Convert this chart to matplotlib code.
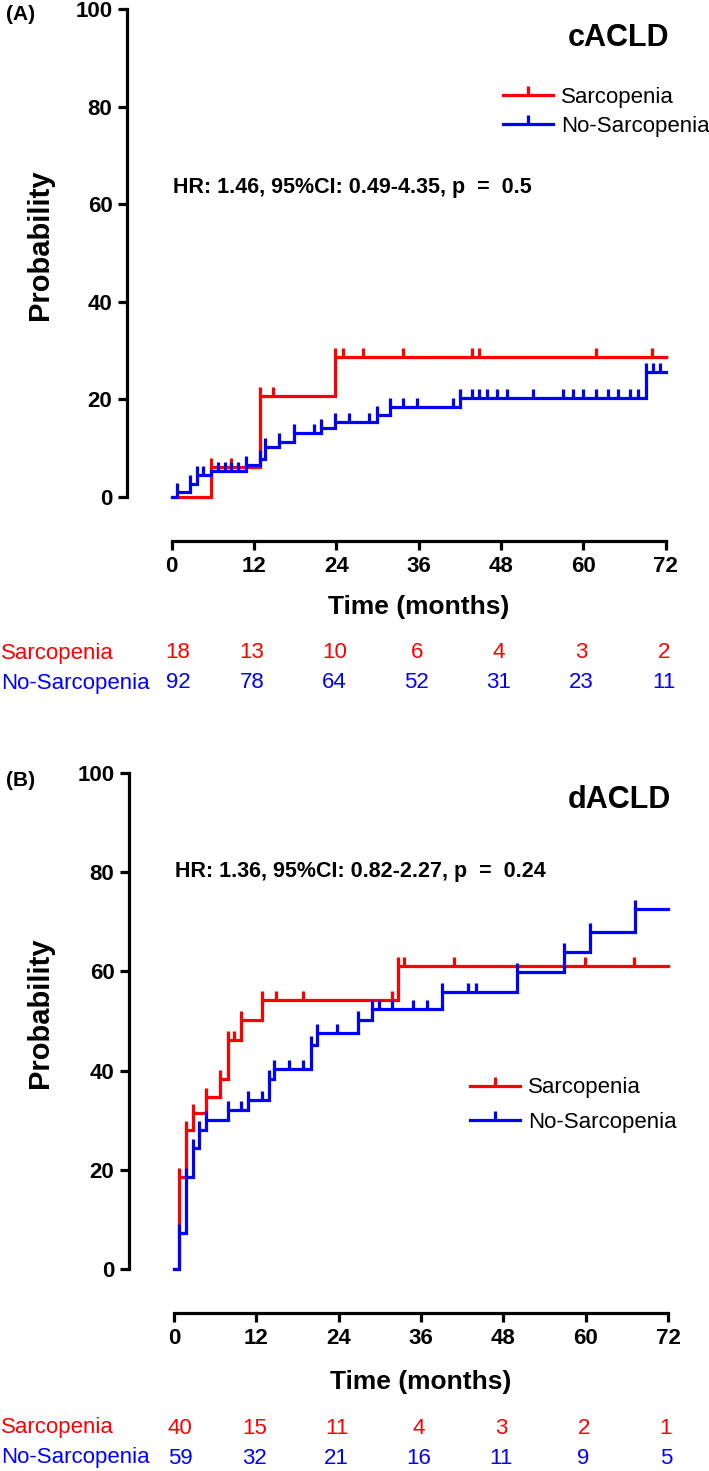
import numpy as np
import matplotlib
matplotlib.use("Agg")
import matplotlib.pyplot as plt
from matplotlib.path import Path
from matplotlib.transforms import blended_transform_factory

plt.rcParams['font.family'] = ['Liberation Sans', 'DejaVu Sans']

RED = '#FF0000'
BLUE = '#0000FF'

# ---------------- data ----------------
time_ticks = [0, 12, 24, 36, 48, 60, 72]
prob_ticks = [0, 20, 40, 60, 80, 100]
group_names = ['Sarcopenia', 'No-Sarcopenia']

# Panel A : cACLD
a_title = 'cACLD'
a_hr = 'HR: 1.46, 95%CI: 0.49-4.35, p  =  0.5'
a_sarc_t = [0, 5.7, 12.8, 23.8, 72]
a_sarc_p = [0, 6.2, 20.7, 28.75, 28.75]
a_sarc_cens = [5.7, 8.7, 12.8, 14.7, 23.8, 24.9, 27.8, 33.7, 43.7, 44.8, 61.9, 70.0]
a_nosarc_t = [0, 0.7, 2.7, 3.7, 5.7, 10.8, 12.8, 13.6, 15.7, 17.8, 21.7, 23.8,
              29.9, 31.8, 42.0, 69.1, 72]
a_nosarc_p = [0, 1.1, 2.7, 4.5, 5.3, 6.6, 7.7, 10.3, 11.3, 13.2, 14.1, 15.4,
              16.8, 18.5, 20.2, 25.7, 25.7]
a_nosarc_cens = [0.7, 2.7, 3.7, 4.6, 6.8, 7.8, 8.7, 9.7, 10.8, 12.8, 13.6, 15.7,
                 17.8, 20.7, 21.7, 23.8, 25.8, 28.7, 29.9, 31.8, 33.7, 35.7, 41.0,
                 42.0, 43.7, 44.8, 46.0, 47.4, 48.8, 52.7, 57.0, 58.5, 60.0, 61.9,
                 63.6, 65.1, 66.8, 67.9, 69.1, 70.2, 71.1]
a_risk_sarc = [18, 13, 10, 6, 4, 3, 2]
a_risk_nosarc = [92, 78, 64, 52, 31, 23, 11]

# Panel B : dACLD
b_title = 'dACLD'
b_hr = 'HR: 1.36, 95%CI: 0.82-2.27, p  =  0.24'
b_sarc_t = [0, 0.75, 1.8, 2.75, 4.7, 6.7, 7.8, 9.7, 12.8, 32.6, 72]
b_sarc_p = [0, 18.6, 28.0, 31.4, 34.7, 38.4, 46.1, 50.2, 54.3, 61.1, 61.1]
b_sarc_cens = [0.75, 1.8, 2.75, 4.7, 6.7, 7.8, 8.7, 9.7, 12.8, 14.8, 18.8, 31.8,
               32.6, 33.5, 40.8, 59.9, 67.0]
b_nosarc_t = [0, 0.75, 1.8, 2.75, 3.7, 4.7, 7.8, 10.8, 13.9, 14.6, 19.9, 20.8,
              26.8, 28.8, 39.0, 50.0, 56.9, 60.6, 67.2, 72]
b_nosarc_p = [0, 7.3, 18.6, 24.3, 28.0, 30.0, 32.0, 34.1, 38.4, 40.4, 45.1, 47.5,
              50.2, 52.5, 55.9, 59.9, 63.9, 68.0, 72.5, 72.5]
b_nosarc_cens = [0.75, 1.8, 2.75, 3.7, 4.7, 7.8, 9.7, 10.8, 12.8, 13.9, 14.6, 16.8,
                 18.8, 19.9, 20.8, 23.8, 26.8, 28.8, 29.9, 31.8, 34.8, 36.9, 39.0,
                 42.9, 44.0, 50.0, 56.9, 60.6, 67.2]
b_risk_sarc = [40, 15, 11, 4, 3, 2, 1]
b_risk_nosarc = [59, 32, 21, 16, 11, 9, 5]

# ---------------- figure ----------------
W, H, DPI = 709, 1471, 100
PT = 72.0 / DPI
fig = plt.figure(figsize=(W / DPI, H / DPI), dpi=DPI)

TICK = Path([(0, 0), (0, 1)])
LW = 2.3
MS = 13


def level_at(times, levels, t):
    i = np.searchsorted(times, t, side='right') - 1
    return np.asarray(levels)[i]


def panel(lay, letter, title, hr, sarc, nosarc, risk_s, risk_n):
    x0, x72, y0, y100 = lay['x0'], lay['x72'], lay['y0'], lay['y100']
    ax = fig.add_axes([x0 / W, 1 - y0 / H, (x72 - x0) / W, (y0 - y100) / H])
    ax.set_xlim(0, 72)
    ax.set_ylim(0, 100)

    def fy(ypx):  # figure pixel row -> axes fraction
        return (y0 - ypx) / (y0 - y100)

    for (t, p, c), col, z in [(sarc, RED, 3), (nosarc, BLUE, 4)]:
        ax.step(t, p, where='post', color=col, lw=LW, clip_on=False, zorder=z,
                solid_joinstyle='miter')
        cy = level_at(t, p, np.asarray(c))
        ax.plot(c, cy, ls='none', marker=TICK, ms=MS, mew=LW, mec=col,
                clip_on=False, zorder=z)

    for s in ['top', 'right']:
        ax.spines[s].set_visible(False)
    ax.spines['left'].set_position(('outward', (x0 - lay['sx']) * PT))
    ax.spines['bottom'].set_position(('outward', (lay['sy'] - y0) * PT))
    for s in ['left', 'bottom']:
        ax.spines[s].set_linewidth(2.3)
        ax.spines[s].set_capstyle('projecting')
    ax.spines['left'].set_bounds(0, 100)
    ax.spines['bottom'].set_bounds(0, 72)
    ax.set_xticks(time_ticks)
    ax.set_yticks(prob_ticks)
    ax.tick_params(axis='both', direction='out', length=9 * PT, width=2.3,
                   labelsize=16)
    ax.tick_params(axis='x', pad=4)
    ax.tick_params(axis='y', pad=4)
    for lab in ax.get_xticklabels() + ax.get_yticklabels():
        lab.set_fontweight('bold')

    ax.text(0.5, fy(lay['xlab']), 'Time (months)', transform=ax.transAxes,
            ha='center', va='center', fontsize=19, fontweight='bold')
    fig.text(40 / W, 1 - ((y0 + y100) / 2 - 8) / H, 'Probability', rotation=90,
             ha='center', va='center', fontsize=21, fontweight='bold')
    fig.text(6 / W, 1 - lay['let'] / H, letter, ha='left', va='center',
             fontsize=15, fontweight='bold')
    ax.text(72.5, 100 - (lay['title'] - y100) / (y0 - y100) * 100, title,
            ha='right', va='center', fontsize=22, fontweight='bold')
    ax.text(0.2, 100 - (lay['hr'] - y100) / (y0 - y100) * 100, hr,
            ha='left', va='center', fontsize=15.5, fontweight='bold')

    handles = [plt.Line2D([], [], color=RED, lw=LW, marker=TICK, ms=MS, mew=LW),
               plt.Line2D([], [], color=BLUE, lw=LW, marker=TICK, ms=MS, mew=LW)]
    ax.legend(handles, group_names, loc='center left',
              bbox_to_anchor=(lay['legx'] / W, 1 - lay['legy'] / H),
              bbox_transform=fig.transFigure, frameon=False, fontsize=16,
              handlelength=2.25, handletextpad=0.35,
              labelspacing=lay['legsp'], borderpad=0, borderaxespad=0,
              numpoints=1)

    tr = blended_transform_factory(ax.transData, ax.transAxes)
    for ypx, vals, col, name in [(lay['r1'], risk_s, RED, group_names[0]),
                                 (lay['r2'], risk_n, BLUE, group_names[1])]:
        fig.text(1 / W, 1 - ypx / H, name, color=col, ha='left', va='center',
                 fontsize=16)
        for t, v in zip(time_ticks, vals):
            ax.text(t + (0.9 if t == 0 else -0.3), fy(ypx), str(v), transform=tr,
                    color=col, ha='center', va='center', fontsize=16,
                    clip_on=False)
    return ax


lay_a = dict(x0=171.8, x72=665.7, y0=497, y100=9, sx=127, sy=541, xlab=607,
             let=15, title=38, hr=188, legx=503, legy=112, legsp=0.38,
             r1=653, r2=683)
lay_b = dict(x0=174.0, x72=668.0, y0=1269, y100=773, sx=129, sy=1313, xlab=1382,
             let=781, title=800, hr=872, legx=470, legy=1105, legsp=0.6,
             r1=1428, r2=1458)

panel(lay_a, '(A)', a_title, a_hr,
      (a_sarc_t, a_sarc_p, a_sarc_cens), (a_nosarc_t, a_nosarc_p, a_nosarc_cens),
      a_risk_sarc, a_risk_nosarc)
panel(lay_b, '(B)', b_title, b_hr,
      (b_sarc_t, b_sarc_p, b_sarc_cens), (b_nosarc_t, b_nosarc_p, b_nosarc_cens),
      b_risk_sarc, b_risk_nosarc)

fig.savefig('out.png', dpi=DPI)
